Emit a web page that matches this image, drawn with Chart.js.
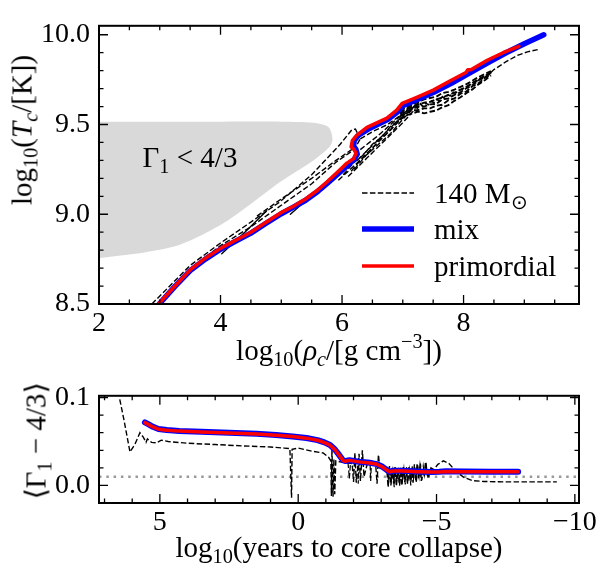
<!DOCTYPE html>
<html>
<head>
<meta charset="utf-8">
<script src="https://cdn.jsdelivr.net/npm/chart.js@4.4.1/dist/chart.umd.min.js"></script>
<style>
  body { margin: 0; background: #fff; }
  #wrap { position: relative; width: 600px; height: 564px; font-family: 'Liberation Serif', serif; color: #000; overflow: hidden; }
  canvas { position: absolute; left: 0; }
  .lbl { position: absolute; white-space: nowrap; font-size: 29px; line-height: 1; transform: translate(-50%, -50%); }
  .rot { transform: translate(-50%, -50%) rotate(-90deg); }
  sub { font-size: 0.7em; vertical-align: -0.3em; line-height: 0; }
  sup { font-size: 0.7em; vertical-align: 0.55em; line-height: 0; }
  .legtxt { position: absolute; left: 434px; font-size: 29px; line-height: 1; transform: translateY(-50%); white-space: nowrap; }
  svg { position: absolute; left: 0; top: 0; }
</style>
</head>
<body>
<div id="wrap">
  <canvas id="topChart" width="600" height="370" style="top:0"></canvas>
  <canvas id="bottomChart" width="600" height="194" style="top:370px"></canvas>

  <!-- titulos de ejes -->
  <div class="lbl rot" style="left:22px; top:130px">log<sub>10</sub>(<i>T<sub>c</sub></i>/[K])</div>
  <div class="lbl" style="left:339px; top:350px">log<sub>10</sub>(<i>ρ<sub>c</sub></i>/[g cm<sup>−3</sup>])</div>
  <div class="lbl rot" style="left:36px; top:441px">⟨Γ<sub>1</sub> − 4/3⟩</div>
  <div class="lbl" style="left:339px; top:547px">log<sub>10</sub>(years to core collapse)</div>

  <!-- etiqueta de la zona -->
  <div class="lbl" style="left:190px; top:157px">Γ<sub>1</sub> &lt; 4/3</div>

  <!-- leyenda -->
  <svg width="600" height="370">
    <line x1="362" y1="193" x2="414" y2="193" stroke="#000" stroke-width="1.5" stroke-dasharray="5.5 2.4"/>
    <line x1="362" y1="229" x2="414" y2="229" stroke="#0000ff" stroke-width="5.5"/>
    <line x1="362" y1="266" x2="414" y2="266" stroke="#ff0000" stroke-width="3.5"/>
  </svg>
  <div class="legtxt" style="top:193px">140 M<sub>⊙</sub></div>
  <div class="legtxt" style="top:229px">mix</div>
  <div class="legtxt" style="top:266px">primordial</div>
</div>

<script>
const FONT = 'Liberation Serif';

// ---- panel superior: log rho_c vs log T_c ----
const rhoTicks = [2, 4, 6, 8];
const tempTicks = [8.5, 9.0, 9.5, 10.0];

// zona Gamma_1 < 4/3
const unstableRegion = [[2,8.755],[2.79,8.79],[3.33,8.83],[4.0,8.94],[4.43,9.04],[4.98,9.18],[5.53,9.30],[5.78,9.37],[5.84,9.41],[5.82,9.46],[5.76,9.49],[5.53,9.51],[5.0,9.516],[4.0,9.516],[3.0,9.516],[2,9.516]];

const primordialTrack = [[2.98,8.5],[3.25,8.6],[3.5,8.69],[3.75,8.755],[4.0,8.81],[4.25,8.855],[4.5,8.9],[4.75,8.955],[5.0,9.01],[5.2,9.045],[5.4,9.085],[5.6,9.135],[5.75,9.18],[5.94,9.24],[6.08,9.285],[6.19,9.31],[6.23,9.34],[6.2,9.36],[6.15,9.375],[6.17,9.41],[6.24,9.44],[6.41,9.484],[6.74,9.536],[6.9,9.58],[6.99,9.618],[7.24,9.653],[7.51,9.693],[7.79,9.745],[8.04,9.79],[8.07,9.805],[8.12,9.805],[8.39,9.858],[8.65,9.9],[8.91,9.936]];

const mixTrack = [[2.99,8.5],[3.25,8.598],[3.5,8.686],[3.75,8.75],[4.0,8.805],[4.25,8.85],[4.5,8.895],[4.75,8.95],[5.0,9.003],[5.2,9.04],[5.4,9.078],[5.6,9.127],[5.75,9.17],[5.95,9.23],[6.1,9.275],[6.2,9.305],[6.25,9.335],[6.23,9.36],[6.19,9.38],[6.2,9.41],[6.27,9.44],[6.45,9.478],[6.75,9.528],[6.91,9.57],[7.0,9.605],[7.24,9.64],[7.51,9.68],[7.79,9.728],[8.06,9.78],[8.39,9.842],[8.7,9.9],[9.0,9.95],[9.32,10.0]];

// modelos 140 Msun (trazos discontinuos)
const refOuter = [[2.87,8.5],[3.5,8.715],[4.0,8.84],[4.43,8.94],[4.98,9.07],[5.5,9.22],[5.97,9.39],[6.16,9.47],[6.22,9.475],[6.27,9.44]];
const refInner = [[3.55,8.71],[4.0,8.825],[4.5,8.93],[5.0,9.05],[5.5,9.17],[5.9,9.29],[6.2,9.36],[6.3,9.42]];
const refMid = [[4.6,8.99],[5.0,9.085],[5.5,9.2],[5.9,9.3],[6.2,9.37]];
const refSegA = [[4.02,8.78],[4.4,8.9],[4.76,9.02]];
const refSegB = [[5.15,9.0],[5.35,9.06],[5.53,9.11]];
const refBand1 = [[5.94,9.19],[6.2,9.27],[6.5,9.37],[6.8,9.47],[7.05,9.56],[7.25,9.62]];
const refBand2 = [[6.1,9.21],[6.4,9.31],[6.7,9.41],[7.0,9.51],[7.2,9.585]];
const refBand3 = [[6.25,9.3],[6.55,9.4],[6.85,9.5],[7.1,9.58],[7.3,9.63]];
const refBand4 = [[6.3,9.36],[6.6,9.44],[6.9,9.53],[7.15,9.6]];
const refBand5 = [[6.3,9.42],[6.5,9.46],[6.75,9.5],[7.0,9.56]];
const refBand6 = [[6.02,9.22],[6.2,9.29],[6.35,9.33],[6.5,9.39],[6.65,9.43],[6.8,9.49],[6.95,9.53]];
const refBand7 = [[6.2,9.25],[6.4,9.33],[6.6,9.39],[6.8,9.45],[7.0,9.53],[7.12,9.57]];
const refBand8 = [[6.15,9.24],[6.3,9.3],[6.45,9.345],[6.6,9.41],[6.75,9.455],[6.9,9.51],[7.05,9.55]];
// franja ruidosa 7 < log rho < 8.5
const clusterX = [6.95,7.05,7.15,7.25,7.35,7.45,7.55,7.65,7.75,7.85,7.95,8.05,8.15,8.25,8.35,8.45];
const clusterA = [9.533,9.55,9.561,9.572,9.562,9.571,9.578,9.596,9.608,9.632,9.652,9.676,9.697,9.725,9.747,9.773];
const clusterB = [9.545,9.56,9.58,9.58,9.59,9.59,9.605,9.61,9.635,9.645,9.672,9.685,9.715,9.73,9.76,9.778];
const clusterC = [9.558,9.575,9.585,9.6,9.6,9.612,9.615,9.64,9.645,9.665,9.68,9.703,9.72,9.747,9.763,9.787];
const clusterD = [9.565,9.585,9.6,9.61,9.622,9.626,9.64,9.65,9.665,9.677,9.694,9.71,9.733,9.752,9.772,9.79];
const clusterE = [9.577,9.595,9.61,9.625,9.64,9.648,9.655,9.675,9.682,9.695,9.71,9.725,9.745,9.765,9.782,9.798];
const refCluster2 = [[6.97,9.56],[7.02,9.585],[7.06,9.575],[7.11,9.6],[7.15,9.585],[7.2,9.61],[7.24,9.59],[7.29,9.615],[7.33,9.6],[7.38,9.62],[7.42,9.61],[7.47,9.63],[7.51,9.62],[7.56,9.64],[7.6,9.63],[7.65,9.655],[7.69,9.645],[7.74,9.665],[7.78,9.66],[7.83,9.68],[7.87,9.675],[7.92,9.69],[7.96,9.695],[8.01,9.705],[8.05,9.71],[8.1,9.72],[8.14,9.73],[8.19,9.74],[8.23,9.745],[8.28,9.76],[8.32,9.765],[8.37,9.775],[8.41,9.78],[8.46,9.79]];
const refTail = [[8.45,9.79],[8.5,9.806],[8.7,9.85],[8.88,9.884],[9.05,9.905],[9.22,9.917]];

// ---- panel inferior: <Gamma_1 - 4/3> vs tiempo al colapso ----
const timeTicks = [5, 0, -5, -10];
const gammaTicks = [0.0, 0.1];
const gammaLimit = 0.01;

const primordialGamma = [[5.54,0.0715],[5.42,0.0695],[5.25,0.0665],[5.05,0.064],[4.75,0.0628],[4.3,0.0618],[3.5,0.0608],[2.5,0.0598],[1.5,0.0585],[0.8,0.0572],[0.2,0.0556],[-0.3,0.0538],[-0.7,0.0514],[-0.95,0.0488],[-1.15,0.0458],[-1.32,0.041],[-1.48,0.0345],[-1.62,0.0285],[-1.7,0.0275],[-1.85,0.0285],[-2.2,0.0268],[-2.6,0.0255],[-2.85,0.024],[-3.05,0.021],[-3.2,0.0175],[-3.3,0.0155],[-3.45,0.0165],[-3.8,0.0164],[-4.3,0.0157],[-4.8,0.0152],[-5.1,0.0153],[-5.35,0.0158],[-6,0.0156],[-7,0.0155],[-7.95,0.0155]];
const mixGamma = [[5.54,0.0717],[5.42,0.0697],[5.25,0.0667],[5.05,0.0642],[4.75,0.063],[4.3,0.062],[3.5,0.061],[2.5,0.06],[1.5,0.0587],[0.8,0.0574],[0.2,0.0558],[-0.3,0.054],[-0.7,0.0516],[-0.95,0.049],[-1.15,0.046],[-1.32,0.0412],[-1.48,0.0347],[-1.62,0.0287],[-1.7,0.0277],[-1.85,0.0287],[-2.2,0.027],[-2.6,0.0257],[-2.85,0.0242],[-3.05,0.0212],[-3.2,0.0177],[-3.3,0.0157],[-3.45,0.0167],[-3.8,0.0166],[-4.3,0.0159],[-4.8,0.0154],[-5.1,0.0155],[-5.35,0.016],[-6,0.0158],[-7,0.0157],[-7.95,0.0157]];
const refGamma = [[6.45,0.098],[6.3,0.075],[6.08,0.038],[5.9,0.047],[5.72,0.06],[5.6,0.055],[5.5,0.049],[5.45,0.053],[5.3,0.049],[5.12,0.0485],[4.95,0.0515],[4.7,0.05],[4.0,0.048],[3.0,0.0465],[2.0,0.045],[1.0,0.0437],[0.5,0.0425],[0.3,0.042],[0.24,-0.014],[0.22,0.041],[0.0,0.0425],[-0.5,0.039],[-0.9,0.037],[-1.1,0.032],[-1.18,0.028],[-1.2,-0.012],[-1.22,0.042],[-1.26,-0.013],[-1.29,0.03],[-1.32,-0.01],[-1.36,0.028],[-1.5,0.027],[-1.7,0.026],[-1.95,0.025],[-2.0,0.004],[-2.05,0.037],[-2.1,0.003],[-2.2,0.036],[-2.25,0.005],[-2.32,0.04],[-2.38,0.01],[-2.5,0.025],[-2.8,0.024],[-2.85,0.002],[-2.9,0.035],[-2.95,0.02],[-3.1,0.018],[-3.2,0.02],[-3.25,-0.002],[-3.3,0.022],[-3.35,0.0],[-3.4,0.02],[-3.45,0.002],[-3.5,0.021],[-3.55,-0.001],[-3.6,0.018],[-3.65,0.003],[-3.7,0.02],[-3.75,0.0],[-3.8,0.021],[-3.85,0.004],[-3.9,0.019],[-3.95,0.002],[-4.0,0.022],[-4.05,0.005],[-4.1,0.02],[-4.15,0.003],[-4.2,0.024],[-4.25,0.006],[-4.3,0.025],[-4.35,0.008],[-4.4,0.022],[-4.45,0.005],[-4.5,0.02],[-4.55,0.01],[-4.6,0.026],[-4.7,0.008],[-4.8,0.02],[-4.9,0.018],[-5.05,0.024],[-5.25,0.028],[-5.45,0.025],[-5.7,0.016],[-6.0,0.009],[-6.3,0.0055],[-6.7,0.0045],[-7.5,0.004],[-8.5,0.004],[-9.35,0.004]];
const refGammaNoise = [[-1.8,0.026],[-1.85,0.008],[-1.9,0.03],[-2.15,0.028],[-2.17,0.002],[-2.2,0.03],[-2.6,0.024],[-2.62,0.005],[-2.65,0.03],[-2.7,0.024],[-3.22,0.018],[-3.27,0.004],[-3.32,0.019],[-3.37,0.006],[-3.42,0.017],[-3.47,-0.002],[-3.52,0.016],[-3.57,0.005],[-3.62,0.02],[-3.67,-0.001],[-3.72,0.017],[-3.77,0.006],[-3.82,0.019],[-3.87,0.001],[-3.92,0.021],[-3.97,0.007],[-4.02,0.018],[-4.07,0.0],[-4.12,0.022],[-4.17,0.008],[-4.22,0.02],[-4.27,0.003],[-4.32,0.023],[-4.37,0.01],[-4.42,0.025],[-4.47,0.006],[-4.52,0.022],[-4.57,0.012],[-4.62,0.027],[-4.67,0.01]];

function pts(arr) { return arr.map(([x, y]) => ({ x, y })); }
function zipPts(xs, ys) { return xs.map((x, i) => [x, ys[i]]); }

function steps(from, to, step) {
  const out = [];
  for (let v = from; v <= to + 1e-9; v += step) out.push(+v.toFixed(4));
  return out;
}

function dashed(arr, width) {
  return { data: pts(arr), showLine: true, pointRadius: 0, borderColor: '#000', borderWidth: width || 1.4, borderDash: [5.5, 2.4], fill: false };
}
function solid(arr, color, width) {
  return { data: pts(arr), showLine: true, pointRadius: 0, borderColor: color, borderWidth: width, fill: false, borderCapStyle: 'round', borderJoinStyle: 'round' };
}

// marco y ticks hacia dentro, estilo matplotlib
const frameTicks = {
  id: 'frameTicks',
  afterDatasetsDraw(chart, args, opts) {
    const { ctx, chartArea: a, scales: { x, y } } = chart;
    ctx.save();
    ctx.strokeStyle = '#000';
    ctx.lineWidth = 1.3;
    ctx.beginPath();
    const xt = (vals, len) => vals.forEach(v => {
      const p = x.getPixelForValue(v);
      if (p < a.left - 0.5 || p > a.right + 0.5) return;
      ctx.moveTo(p, a.bottom); ctx.lineTo(p, a.bottom - len);
      ctx.moveTo(p, a.top); ctx.lineTo(p, a.top + len);
    });
    const yt = (vals, len) => vals.forEach(v => {
      const p = y.getPixelForValue(v);
      if (p < a.top - 0.5 || p > a.bottom + 0.5) return;
      ctx.moveTo(a.left, p); ctx.lineTo(a.left + len, p);
      ctx.moveTo(a.right, p); ctx.lineTo(a.right - len, p);
    });
    xt(opts.xMinor, 4.5); xt(opts.xMajor, 9);
    yt(opts.yMinor, 4.5); yt(opts.yMajor, 9);
    ctx.stroke();
    ctx.lineWidth = 2;
    ctx.strokeRect(a.left, a.top, a.right - a.left, a.bottom - a.top);
    ctx.restore();
  }
};

const tickFont = { family: FONT, size: 28 };

function axis(min, max, ticks, fmt, extra) {
  return Object.assign({
    type: 'linear', min, max,
    grid: { display: false, drawTicks: false },
    border: { display: false },
    afterBuildTicks: s => { s.ticks = ticks.map(v => ({ value: v })); },
    ticks: { color: '#000', font: tickFont, callback: fmt, maxRotation: 0, autoSkip: false, padding: 9 }
  }, extra || {});
}

const fmtMinus = v => (v < 0 ? '\u2212' + Math.abs(v) : String(v));

Chart.defaults.animation = false;

new Chart(document.getElementById('topChart'), {
  type: 'scatter',
  data: {
    datasets: [
      solid(primordialTrack, '#ff0000', 3.5),
      solid(mixTrack, '#0000ff', 5.5),
      dashed(refOuter), dashed(refInner), dashed(refMid),
      solid(refSegA, '#000', 1.4), solid(refSegB, '#000', 1.4),
      dashed(refBand1), dashed(refBand2), dashed(refBand3), dashed(refBand4), dashed(refBand5),
      dashed(refBand6), dashed(refBand7), dashed(refBand8),
      dashed(zipPts(clusterX, clusterA), 1.9), dashed(zipPts(clusterX, clusterB), 1.9),
      dashed(zipPts(clusterX, clusterC), 1.9), dashed(zipPts(clusterX, clusterD), 1.9),
      dashed(zipPts(clusterX, clusterE), 1.9), dashed(refCluster2, 1.6), dashed(refTail),
      { data: pts(unstableRegion), showLine: true, pointRadius: 0, borderWidth: 0, borderColor: 'rgba(0,0,0,0)', backgroundColor: '#d9d9d9', fill: 'shape', tension: 0.3 }
    ]
  },
  options: {
    responsive: false,
    layout: { padding: { top: 7, right: 21, left: 0, bottom: 0 } },
    plugins: {
      legend: { display: false }, tooltip: { enabled: false },
      frameTicks: { xMajor: rhoTicks, xMinor: steps(2, 9.9, 0.5), yMajor: tempTicks, yMinor: steps(8.5, 10.05, 0.1) }
    },
    scales: {
      x: axis(2, 9.9, rhoTicks, v => String(v), { afterFit: s => { s.height = 66; }, ticks: { color: '#000', font: tickFont, padding: 3, maxRotation: 0, autoSkip: false } }),
      y: axis(8.5, 10.05, tempTicks, v => v.toFixed(1), { afterFit: s => { s.width = 99; } })
    }
  },
  plugins: [frameTicks]
});

new Chart(document.getElementById('bottomChart'), {
  type: 'scatter',
  data: {
    datasets: [
      solid(primordialGamma, '#ff0000', 3.5),
      solid(mixGamma, '#0000ff', 6),
      dashed(refGamma), dashed(refGammaNoise, 1.2),
      { data: pts([[7.2, gammaLimit], [-10.15, gammaLimit]]), showLine: true, pointRadius: 0, borderColor: '#999', borderWidth: 2.5, borderDash: [2.5, 4.8], fill: false }
    ]
  },
  options: {
    responsive: false,
    layout: { padding: { top: 11, right: 21, left: 0, bottom: 0 } },
    plugins: {
      legend: { display: false }, tooltip: { enabled: false },
      frameTicks: { xMajor: timeTicks, xMinor: steps(-10, 7, 1), yMajor: gammaTicks, yMinor: steps(-0.02, 0.1, 0.02) }
    },
    scales: {
      x: axis(-10.15, 7.2, timeTicks, fmtMinus, { reverse: true, afterFit: s => { s.height = 61; }, ticks: { color: '#000', font: tickFont, padding: 3, callback: fmtMinus, maxRotation: 0, autoSkip: false } }),
      y: axis(-0.02, 0.102, gammaTicks, v => v.toFixed(1), { afterFit: s => { s.width = 99; } })
    }
  },
  plugins: [frameTicks]
});
</script>
</body>
</html>
